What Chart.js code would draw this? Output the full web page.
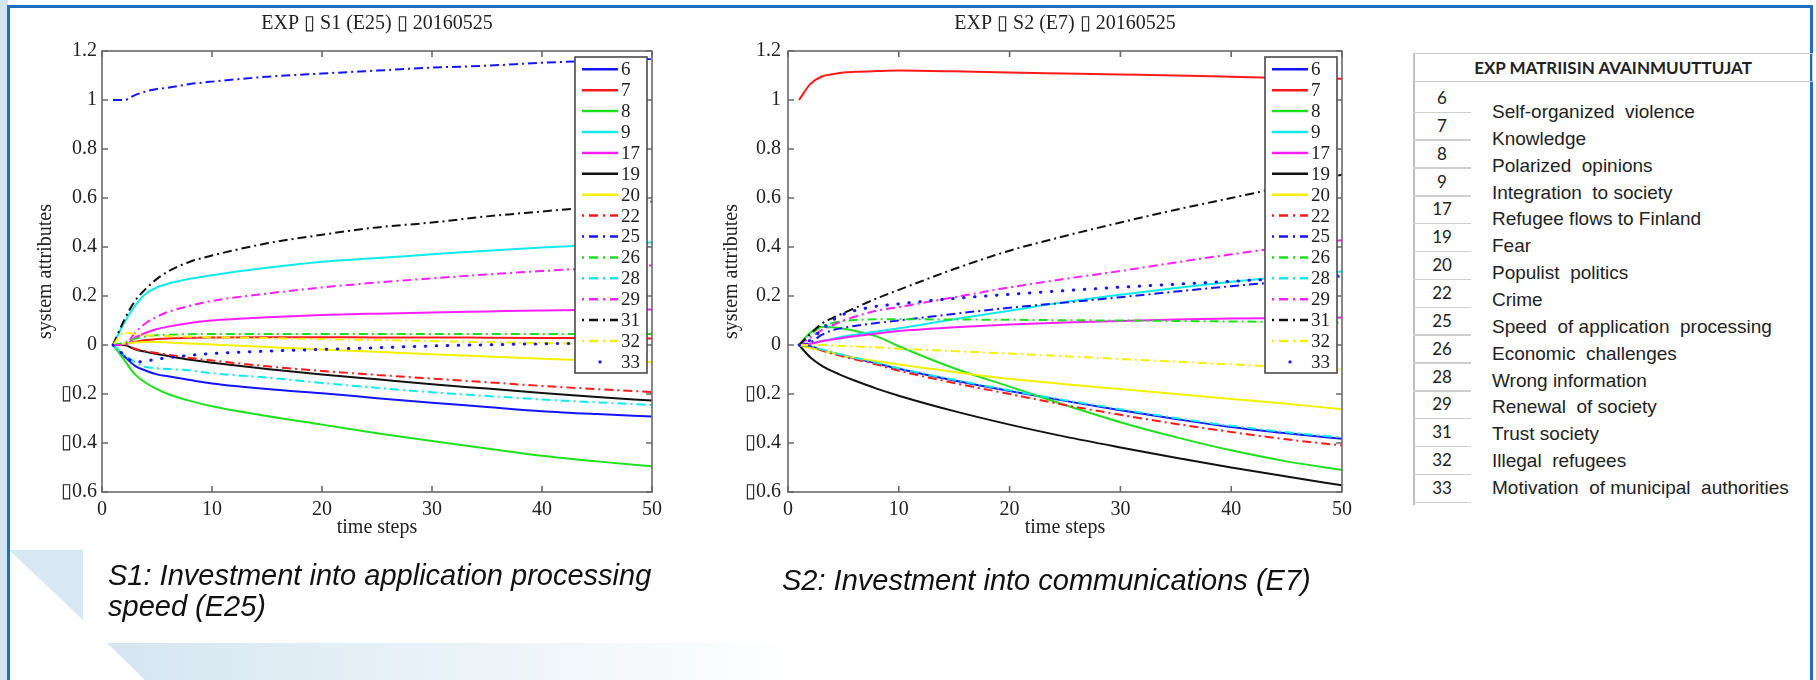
<!DOCTYPE html>
<html>
<head>
<meta charset="utf-8">
<script src="https://cdn.jsdelivr.net/npm/chart.js@4.4.0/dist/chart.umd.min.js"></script>
<style>
  html, body { margin: 0; padding: 0; background: #fff; }
  #stage { position: relative; width: 1816px; height: 680px; overflow: hidden; background: #fff; }
  .deco { position: absolute; left: 0; top: 0; }
  .frame-top { position: absolute; left: 7px; top: 5px; width: 1803px; height: 3px; background: #1f6fbf; }
  .frame-left { position: absolute; left: 7px; top: 5px; width: 3px; height: 680px; background: #1f6fbf; }
  .frame-right { position: absolute; left: 1810px; top: 5px; width: 3px; height: 680px; background: #1f6fbf; }
  .chart-box { position: absolute; top: 0; }
  .caption { position: absolute; font-family: "Liberation Sans", Arial, sans-serif; font-style: italic;
             font-size: 29px; line-height: 31px; color: #111; white-space: nowrap; }
  #keyTable { position: absolute; left: 1413px; top: 53px; width: 403px; height: 455px; }
  #keyTable .hdr { position: absolute; left: 0; top: 0; width: 400px; height: 29px; border: 1.5px solid #c8c8c8;
                   font-family: Lato, "Open Sans", sans-serif; font-weight: bold; font-size: 17px; line-height: 27px;
                   text-align: center; color: #222; box-sizing: border-box; }
  #keyTable .vline { position: absolute; left: 0; top: 0; width: 2px; height: 452px; background: #bdbdbd; }
  #keyTable .num { position: absolute; left: 0; width: 58px; text-align: center; font-family: Lato, "Open Sans", sans-serif;
                   font-size: 17px; color: #222; line-height: 20px; }
  #keyTable .rule { position: absolute; left: 0; width: 58px; height: 1.5px; background: #cfcfcf; }
  #keyTable .name { position: absolute; left: 79px; font-family: "Liberation Sans", Arial, sans-serif; font-size: 19px;
                    color: #222; line-height: 22px; white-space: pre; }
</style>
</head>
<body>
<div id="stage">
  <svg class="deco" width="1816" height="680">
    <defs>
      <linearGradient id="band" x1="0" y1="0" x2="1" y2="0">
        <stop offset="0" stop-color="#d5e6f1"/>
        <stop offset="1" stop-color="#ffffff"/>
      </linearGradient>
    </defs>
    <rect x="0" y="0" width="8" height="680" fill="#d3e5f0"/>
    <polygon points="9,550 83,550 83,620" fill="#d8e8f2"/>
    <polygon points="107,643 800,643 800,680 145,680" fill="url(#band)"/>
  </svg>
  <div class="frame-top"></div>
  <div class="frame-left"></div>
  <div class="frame-right"></div>

  <div class="chart-box" style="left:0px;width:742px;height:560px;"><canvas id="chartS1" width="742" height="560"></canvas></div>
  <div class="chart-box" style="left:700px;width:658px;height:560px;"><canvas id="chartS2" width="658" height="560"></canvas></div>

  <div class="caption" style="left:108px;top:560px;">S1: Investment into application processing<br>speed (E25)</div>
  <div class="caption" style="left:782px;top:565px;">S2: Investment into communications (E7)</div>

  <div id="keyTable">
    <div class="vline"></div>
    <div class="hdr">EXP MATRIISIN AVAINMUUTTUJAT</div>
  </div>
</div>

<script>
const STEPS = [1, 2, 3, 4, 5, 6, 8, 10, 15, 20, 25, 30, 35, 40, 45, 50];

const SERIES_IDS = ['6', '7', '8', '9', '17', '19', '20', '22', '25', '26', '28', '29', '31', '32', '33'];

const VAR_NAMES = [
  'Self-organized  violence',
  'Knowledge',
  'Polarized  opinions',
  'Integration  to society',
  'Refugee flows to Finland',
  'Fear',
  'Populist  politics',
  'Crime',
  'Speed  of application  processing',
  'Economic  challenges',
  'Wrong information',
  'Renewal  of society',
  'Trust society',
  'Illegal  refugees',
  'Motivation  of municipal  authorities',
];

const X_MIN = 0, X_MAX = 50, X_STEP = 10;
const Y_MIN = -0.6, Y_MAX = 1.2, Y_STEP = 0.2;

// the source figure shows its dashes and minus signs as missing-glyph boxes
const BOX = '\u25AF';

// S1 (E25)
const s1_6  = [0, -0.045, -0.085, -0.105, -0.12, -0.128, -0.143, -0.157, -0.18, -0.197, -0.217, -0.236, -0.253, -0.27, -0.282, -0.292];
const s1_7  = [0, 0.005, 0.013, 0.02, 0.024, 0.027, 0.03, 0.031, 0.032, 0.032, 0.031, 0.031, 0.03, 0.029, 0.028, 0.027];
const s1_8  = [0, -0.06, -0.12, -0.155, -0.18, -0.2, -0.228, -0.25, -0.29, -0.325, -0.36, -0.392, -0.422, -0.452, -0.475, -0.495];
const s1_9  = [0, 0.09, 0.16, 0.21, 0.235, 0.25, 0.27, 0.285, 0.315, 0.34, 0.355, 0.37, 0.385, 0.398, 0.408, 0.418];
const s1_17 = [0, 0, 0.03, 0.05, 0.065, 0.075, 0.09, 0.1, 0.113, 0.122, 0.128, 0.133, 0.137, 0.141, 0.143, 0.145];
const s1_19 = [0, 0, -0.018, -0.028, -0.037, -0.045, -0.06, -0.072, -0.098, -0.12, -0.14, -0.16, -0.178, -0.196, -0.212, -0.227];
const s1_20 = [0, 0.005, 0.01, 0.012, 0.012, 0.01, 0.006, 0.002, -0.008, -0.018, -0.028, -0.038, -0.047, -0.056, -0.063, -0.07];
const s1_22 = [0, 0, -0.015, -0.025, -0.033, -0.04, -0.053, -0.063, -0.087, -0.106, -0.122, -0.137, -0.152, -0.167, -0.18, -0.192];
const s1_25 = [1.0, 1.0, 1.02, 1.035, 1.045, 1.05, 1.065, 1.075, 1.095, 1.108, 1.12, 1.132, 1.14, 1.152, 1.16, 1.168];
const s1_26 = [0, 0.01, 0.025, 0.035, 0.04, 0.042, 0.044, 0.045, 0.045, 0.045, 0.045, 0.045, 0.045, 0.045, 0.045, 0.045];
const s1_28 = [0, -0.04, -0.07, -0.09, -0.095, -0.098, -0.104, -0.115, -0.133, -0.155, -0.175, -0.193, -0.208, -0.222, -0.234, -0.245];
const s1_29 = [0, 0, 0.05, 0.09, 0.115, 0.135, 0.16, 0.18, 0.21, 0.235, 0.255, 0.272, 0.288, 0.302, 0.315, 0.325];
const s1_31 = [0, 0.1, 0.18, 0.23, 0.27, 0.3, 0.34, 0.365, 0.415, 0.45, 0.48, 0.5, 0.525, 0.545, 0.565, 0.585];
const s1_32 = [0, 0.05, 0.045, 0.04, 0.038, 0.036, 0.034, 0.032, 0.028, 0.024, 0.02, 0.016, 0.012, 0.008, 0.005, 0.002];
const s1_33 = [0, -0.04, -0.07, -0.065, -0.058, -0.052, -0.042, -0.035, -0.025, -0.018, -0.011, -0.004, 0.001, 0.005, 0.008, 0.01];

// S2 (E7)
const s2_6  = [0, -0.005, -0.02, -0.032, -0.043, -0.054, -0.075, -0.097, -0.145, -0.188, -0.228, -0.266, -0.302, -0.335, -0.36, -0.383];
const s2_7  = [1.0, 1.065, 1.095, 1.105, 1.112, 1.115, 1.118, 1.12, 1.117, 1.112, 1.108, 1.104, 1.1, 1.095, 1.09, 1.087];
const s2_8  = [0, 0.05, 0.075, 0.072, 0.066, 0.058, 0.035, -0.005, -0.095, -0.17, -0.245, -0.315, -0.376, -0.43, -0.475, -0.51];
const s2_9  = [0, 0.005, 0.015, 0.025, 0.035, 0.042, 0.055, 0.068, 0.105, 0.14, 0.175, 0.205, 0.233, 0.258, 0.28, 0.3];
const s2_17 = [0, 0.005, 0.015, 0.022, 0.03, 0.036, 0.047, 0.057, 0.072, 0.084, 0.092, 0.098, 0.104, 0.108, 0.11, 0.112];
const s2_19 = [0, -0.05, -0.083, -0.107, -0.127, -0.145, -0.178, -0.207, -0.27, -0.325, -0.374, -0.418, -0.46, -0.5, -0.537, -0.573];
const s2_20 = [0, -0.012, -0.022, -0.032, -0.045, -0.052, -0.066, -0.08, -0.11, -0.138, -0.16, -0.18, -0.2, -0.22, -0.24, -0.262];
const s2_22 = [0, -0.005, -0.022, -0.035, -0.047, -0.058, -0.08, -0.105, -0.155, -0.2, -0.245, -0.285, -0.322, -0.355, -0.385, -0.41];
const s2_25 = [0, 0.01, 0.04, 0.06, 0.07, 0.078, 0.09, 0.1, 0.127, 0.152, 0.173, 0.195, 0.218, 0.24, 0.26, 0.28];
const s2_26 = [0, 0.04, 0.075, 0.09, 0.098, 0.102, 0.105, 0.105, 0.104, 0.103, 0.101, 0.1, 0.098, 0.096, 0.094, 0.092];
const s2_28 = [0, -0.004, -0.018, -0.03, -0.041, -0.052, -0.073, -0.095, -0.142, -0.185, -0.225, -0.262, -0.298, -0.33, -0.356, -0.378];
const s2_29 = [0, 0.03, 0.06, 0.08, 0.1, 0.115, 0.14, 0.155, 0.195, 0.235, 0.27, 0.302, 0.337, 0.37, 0.4, 0.428];
const s2_31 = [0, 0.045, 0.085, 0.11, 0.13, 0.15, 0.19, 0.225, 0.31, 0.385, 0.445, 0.5, 0.552, 0.6, 0.648, 0.695];
const s2_32 = [0, 0, 0, -0.002, -0.004, -0.006, -0.01, -0.015, -0.025, -0.035, -0.046, -0.057, -0.068, -0.079, -0.09, -0.1];
const s2_33 = [0, 0.02, 0.06, 0.1, 0.125, 0.14, 0.158, 0.168, 0.19, 0.207, 0.222, 0.236, 0.248, 0.26, 0.272, 0.284];

const S1_VALUES = [s1_6, s1_7, s1_8, s1_9, s1_17, s1_19, s1_20, s1_22, s1_25, s1_26, s1_28, s1_29, s1_31, s1_32, s1_33];
const S2_VALUES = [s2_6, s2_7, s2_8, s2_9, s2_17, s2_19, s2_20, s2_22, s2_25, s2_26, s2_28, s2_29, s2_31, s2_32, s2_33];

// matlab-ish colours and line styles, in SERIES_IDS order
const C = {
  b: '#1414ff', r: '#ff1a1a', g: '#1ee01e', c: '#10eaea', m: '#ff1eff', k: '#111111', y: '#f2f200',
};
const STYLES = [
  ['b', 'solid'], ['r', 'solid'], ['g', 'solid'], ['c', 'solid'], ['m', 'solid'], ['k', 'solid'], ['y', 'solid'],
  ['r', 'dashdot'], ['b', 'dashdot'], ['g', 'dashdot'], ['c', 'dashdot'], ['m', 'dashdot'], ['k', 'dashdot'], ['y', 'dashdot'],
  ['b', 'dot'],
];

const SERIF = '"Liberation Serif", "Times New Roman", serif';

function dashFor(kind) {
  if (kind === 'dashdot') return [9, 4, 2, 4];
  if (kind === 'dot') return [0.5, 10.5];
  return [];
}

function buildDatasets(values) {
  return SERIES_IDS.map((id, i) => {
    const [col, kind] = STYLES[i];
    return {
      label: id,
      data: STEPS.map((s, k) => ({ x: s, y: values[i][k] })),
      borderColor: C[col],
      borderWidth: kind === 'dot' ? 3 : 2,
      borderDash: dashFor(kind),
      borderCapStyle: kind === 'dot' ? 'round' : 'butt',
      lineKind: kind,
      pointRadius: 0,
      cubicInterpolationMode: 'monotone',
      fill: false,
      order: SERIES_IDS.length - i,
    };
  });
}

function tickLabel(v) {
  const r = Math.round(v * 10) / 10;
  if (r < 0) return BOX + String(Math.abs(r));
  return String(r);
}

// box round the axes, inward ticks on all four sides, and the boxed legend inside
const matlabFrame = {
  id: 'matlabFrame',
  afterDatasetsDraw(chart, args, opts) {
    const { ctx, chartArea: a } = chart;
    const xs = chart.scales.x, ys = chart.scales.y;
    ctx.save();
    ctx.strokeStyle = '#6a6a6a';
    ctx.lineWidth = 1.6;
    ctx.strokeRect(a.left, a.top, a.right - a.left, a.bottom - a.top);
    const t = 6;
    ctx.beginPath();
    xs.ticks.forEach((tk) => {
      const px = xs.getPixelForValue(tk.value);
      ctx.moveTo(px, a.bottom); ctx.lineTo(px, a.bottom - t);
      ctx.moveTo(px, a.top); ctx.lineTo(px, a.top + t);
    });
    ys.ticks.forEach((tk) => {
      const py = ys.getPixelForValue(tk.value);
      ctx.moveTo(a.left, py); ctx.lineTo(a.left + t, py);
      ctx.moveTo(a.right, py); ctx.lineTo(a.right - t, py);
    });
    ctx.stroke();

    // legend
    const L = a.right - opts.right - opts.width;
    const T = a.top + opts.top;
    ctx.fillStyle = '#fff';
    ctx.fillRect(L, T, opts.width, opts.height);
    ctx.strokeStyle = '#4a4a4a';
    ctx.lineWidth = 1.6;
    ctx.strokeRect(L, T, opts.width, opts.height);
    ctx.font = '19px ' + SERIF;
    ctx.textBaseline = 'middle';
    chart.data.datasets.forEach((ds, i) => {
      const cy = T + opts.first + i * opts.pitch;
      ctx.save();
      ctx.strokeStyle = ds.borderColor;
      ctx.fillStyle = ds.borderColor;
      if (ds.lineKind === 'dot') {
        ctx.beginPath();
        ctx.arc(L + 25, cy, 1.6, 0, Math.PI * 2);
        ctx.fill();
      } else {
        ctx.lineWidth = 2.5;
        ctx.setLineDash(ds.lineKind === 'dashdot' ? [2, 5, 9, 5] : []);
        ctx.beginPath();
        ctx.moveTo(L + 7, cy);
        ctx.lineTo(L + 43, cy);
        ctx.stroke();
      }
      ctx.restore();
      ctx.fillStyle = '#222';
      ctx.fillText(ds.label, L + 46, cy + 1);
    });
    ctx.restore();
  },
};

function makeChart(canvasId, values, cfg) {
  return new Chart(document.getElementById(canvasId), {
    type: 'line',
    data: { datasets: buildDatasets(values) },
    plugins: [matlabFrame],
    options: {
      responsive: false,
      animation: false,
      events: [],
      layout: { padding: { left: 0, right: cfg.padRight, top: 0, bottom: 0 } },
      plugins: {
        legend: { display: false },
        tooltip: { enabled: false },
        title: {
          display: true,
          fullSize: false,
          text: cfg.title,
          color: '#222',
          font: { family: SERIF, size: 20, weight: 'normal', lineHeight: 1.2 },
          padding: { top: 12, bottom: 15 },
        },
        matlabFrame: { width: 72, height: 316, right: 5, top: 6, first: 12.3, pitch: 20.9 },
      },
      scales: {
        x: {
          type: 'linear',
          min: X_MIN,
          max: X_MAX,
          grid: { display: false, drawTicks: false },
          border: { display: false },
          ticks: { stepSize: X_STEP, padding: 6, color: '#222', font: { family: SERIF, size: 20 }, maxRotation: 0 },
          title: {
            display: true,
            text: 'time steps',
            color: '#222',
            font: { family: SERIF, size: 20 },
            padding: { top: 0, bottom: 20 },
          },
          afterFit: (s) => { s.height = 68; },
        },
        y: {
          type: 'linear',
          min: Y_MIN,
          max: Y_MAX,
          grid: { display: false, drawTicks: false },
          border: { display: false },
          ticks: { stepSize: Y_STEP, padding: cfg.yTickPad, color: '#222', font: { family: SERIF, size: 20 },
                   callback: (v) => tickLabel(v) },
          title: {
            display: true,
            text: 'system attributes',
            color: '#222',
            font: { family: SERIF, size: 20 },
            padding: { top: cfg.yTitlePad, bottom: 0 },
          },
          afterFit: (s) => { s.width = cfg.yWidth; },
        },
      },
    },
  });
}

makeChart('chartS1', S1_VALUES, {
  title: 'EXP ' + BOX + ' S1 (E25) ' + BOX + ' 20160525', padRight: 90, yWidth: 102, yTitlePad: 34, yTickPad: 5,
});
makeChart('chartS2', S2_VALUES, {
  title: 'EXP ' + BOX + ' S2 (E7) ' + BOX + ' 20160525', padRight: 11, yWidth: 88, yTitlePad: 20, yTickPad: 7,
});

// key table on the right
(function buildTable() {
  const box = document.getElementById('keyTable');
  SERIES_IDS.forEach((id, i) => {
    const cy = 45 + i * 27.86;
    const n = document.createElement('div');
    n.className = 'num';
    n.style.top = (cy - 10) + 'px';
    n.textContent = id;
    box.appendChild(n);
    const r = document.createElement('div');
    r.className = 'rule';
    r.style.top = (cy + 13.5) + 'px';
    box.appendChild(r);
    const t = document.createElement('div');
    t.className = 'name';
    t.style.top = (59 + i * 26.86 - 11) + 'px';
    t.textContent = VAR_NAMES[i];
    box.appendChild(t);
  });
})();
</script>
</body>
</html>
